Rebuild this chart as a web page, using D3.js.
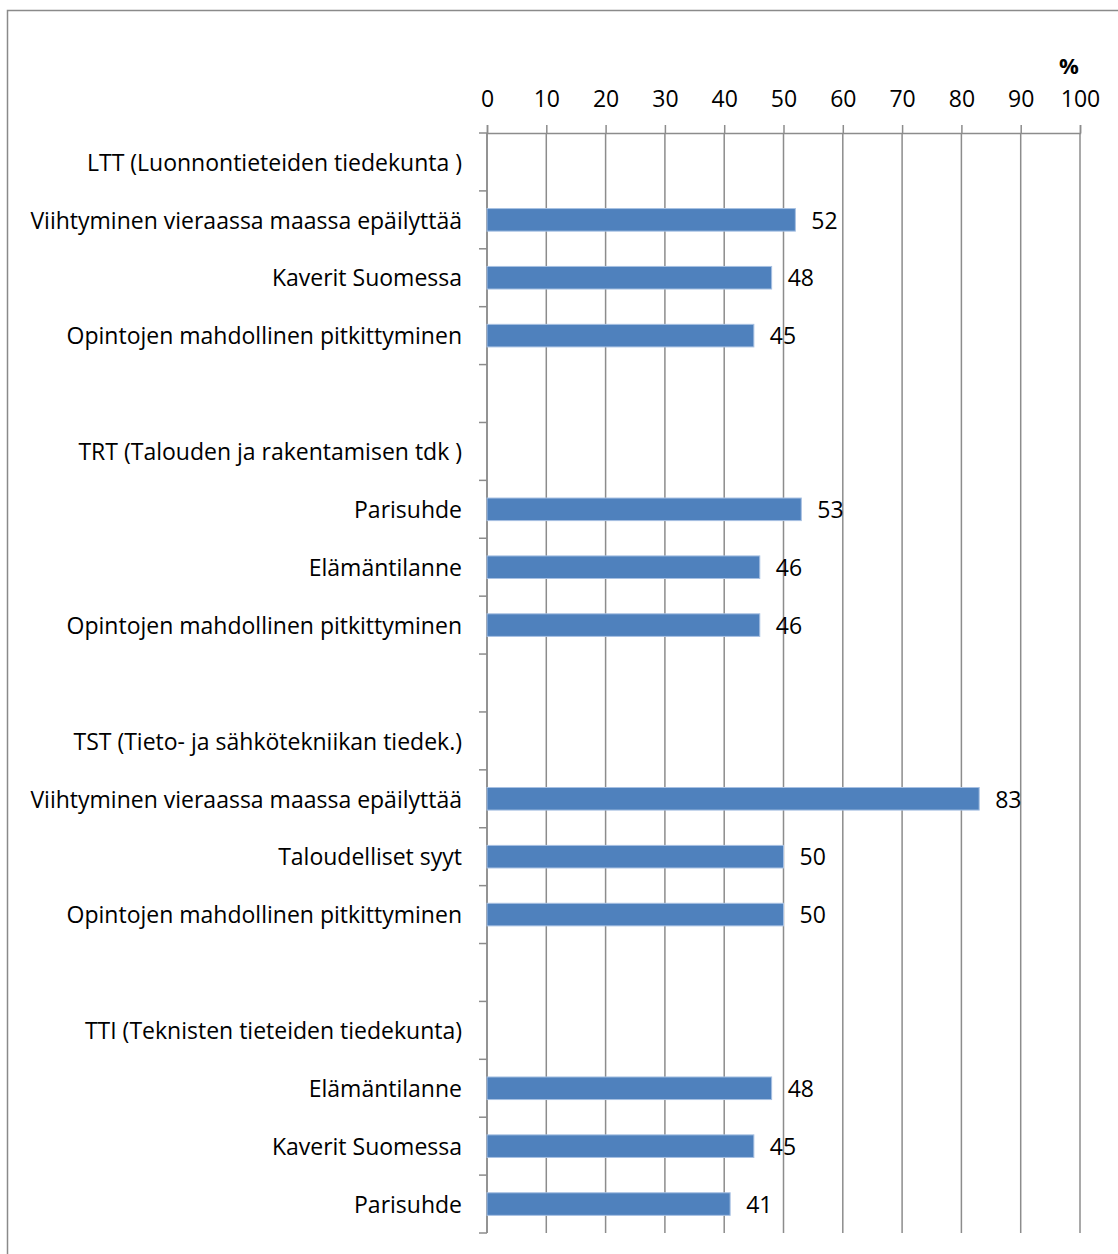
<!DOCTYPE html>
<html>
<head>
<meta charset="utf-8">
<script src="https://cdn.jsdelivr.net/npm/d3@7"></script>
<style>
  html, body { margin: 0; padding: 0; background: #fff; }
  svg { display: block; }
  text { font-family: "Open Sans", "Noto Sans", sans-serif; fill: #000; }
</style>
</head>
<body>
<script>
const categories = [
  "LTT (Luonnontieteiden tiedekunta )",
  "Viihtyminen vieraassa maassa epäilyttää",
  "Kaverit Suomessa",
  "Opintojen mahdollinen pitkittyminen",
  "",
  "TRT (Talouden ja rakentamisen tdk )",
  "Parisuhde",
  "Elämäntilanne",
  "Opintojen mahdollinen pitkittyminen",
  "",
  "TST (Tieto- ja sähkötekniikan tiedek.)",
  "Viihtyminen vieraassa maassa epäilyttää",
  "Taloudelliset syyt",
  "Opintojen mahdollinen pitkittyminen",
  "",
  "TTI (Teknisten tieteiden tiedekunta)",
  "Elämäntilanne",
  "Kaverit Suomessa",
  "Parisuhde"
];
const values = [null, 52, 48, 45, null, null, 53, 46, 46, null, null, 83, 50, 50, null, null, 48, 45, 41];
const xTicks = [0, 10, 20, 30, 40, 50, 60, 70, 80, 90, 100];
const unitLabel = "%";

const W = 1118, H = 1254;
const mLeft = 487, mRight = 1080, mTop = 133, mBottom = 1233;
const gridColor = "#8c8c8c";
const barColor = "#4f81bd";
const fontSize = 23;

const svg = d3.select("body").append("svg").attr("width", W).attr("height", H);

// outer frame
svg.append("path")
  .attr("d", `M7.5,${H} L7.5,10.5 L${W},10.5`)
  .attr("fill", "none").attr("stroke", "#8a8a8a").attr("stroke-width", 1.5);

const x = d3.scaleLinear().domain([0, 100]).range([mLeft, mRight]);
const idx = d3.range(categories.length);
const y = d3.scaleBand().domain(idx).range([mTop, mBottom]).paddingInner(0).paddingOuter(0);

// vertical gridlines
svg.append("g").selectAll("line").data(xTicks).join("line")
  .attr("x1", d => x(d)).attr("x2", d => x(d))
  .attr("y1", mTop).attr("y2", mBottom)
  .attr("stroke", gridColor).attr("stroke-width", 1.5);

// top axis
const axis = d3.axisTop(x).tickValues(xTicks).tickSize(8).tickPadding(18).tickSizeOuter(8);
const ga = svg.append("g").attr("transform", `translate(0,${mTop})`).call(axis);
ga.select(".domain").attr("stroke", gridColor).attr("stroke-width", 1.5);
ga.selectAll(".tick line").attr("stroke", gridColor).attr("stroke-width", 1.5);
ga.selectAll(".tick text").attr("font-size", fontSize).attr("font-family", "Open Sans").attr("fill", "#000");

// percent label
svg.append("text")
  .attr("x", x(100) - 11).attr("y", 74)
  .attr("text-anchor", "middle").attr("font-size", fontSize - 1).attr("font-weight", "bold")
  .text(unitLabel);

// left axis line and boundary ticks
svg.append("line").attr("x1", x(0)).attr("x2", x(0)).attr("y1", mTop).attr("y2", mBottom)
  .attr("stroke", gridColor).attr("stroke-width", 1.5);
const bounds = idx.map(i => y(i)).concat([y(idx[idx.length - 1]) + y.bandwidth()]);
svg.append("g").selectAll("line").data(bounds).join("line")
  .attr("x1", x(0) - 8).attr("x2", x(0))
  .attr("y1", d => d).attr("y2", d => d)
  .attr("stroke", gridColor).attr("stroke-width", 1.5);

// category labels
svg.append("g").selectAll("text").data(idx).join("text")
  .attr("x", x(0) - 25)
  .attr("y", i => y(i) + y.bandwidth() / 2)
  .attr("dy", "0.38em")
  .attr("text-anchor", "end")
  .attr("font-size", fontSize)
  .text(i => categories[i]);

// bars
const barH = y.bandwidth() * 0.39;
const data = idx.filter(i => values[i] != null);
svg.append("g").selectAll("rect").data(data).join("rect")
  .attr("x", x(0))
  .attr("y", i => y(i) + (y.bandwidth() - barH) / 2)
  .attr("width", i => x(values[i]) - x(0))
  .attr("height", barH)
  .attr("fill", barColor)
  .attr("stroke", "#a7c0e2").attr("stroke-width", 1);

// value labels
svg.append("g").selectAll("text").data(data).join("text")
  .attr("x", i => x(values[i]) + 16)
  .attr("y", i => y(i) + y.bandwidth() / 2)
  .attr("dy", "0.38em")
  .attr("font-size", fontSize)
  .text(i => values[i]);
</script>
</body>
</html>
